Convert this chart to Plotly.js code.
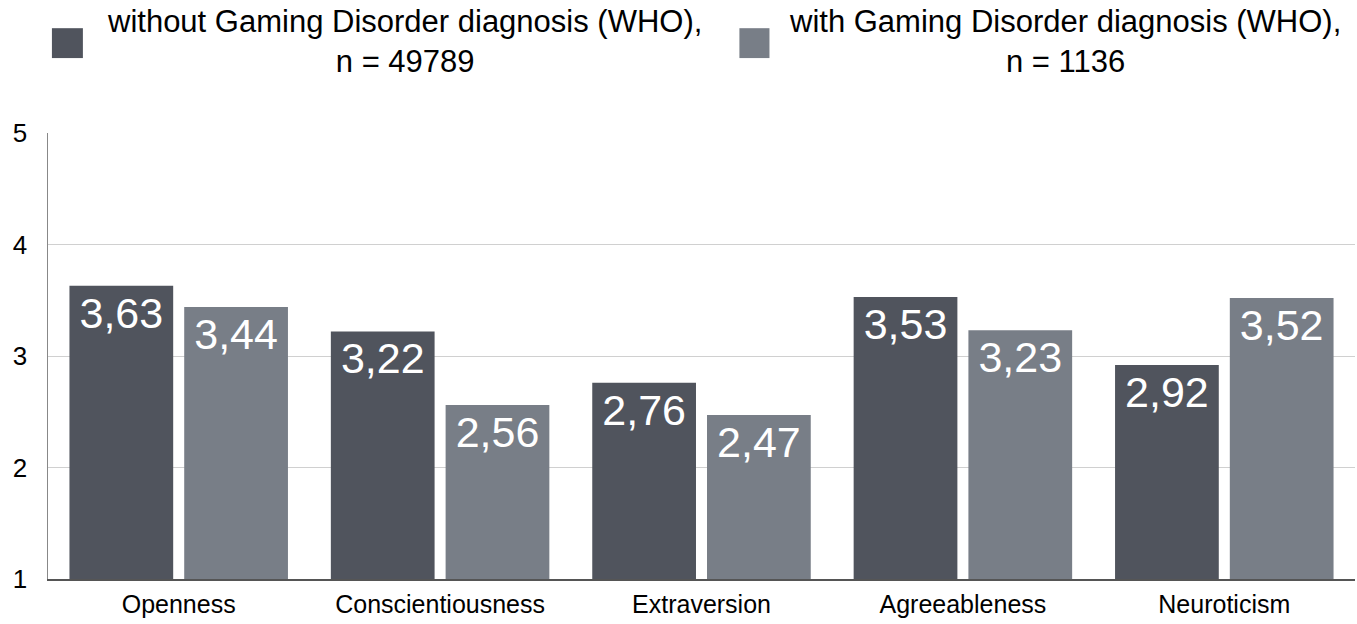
<!DOCTYPE html>
<html><head><meta charset="utf-8">
<script src="https://cdn.plot.ly/plotly-3.0.1.min.js"></script>
<style>html,body{margin:0;padding:0;background:#fff}#chart{width:1357px;height:624px}</style>
</head><body><div id="chart"></div>
<script>
const categories = ["Openness", "Conscientiousness", "Extraversion", "Agreeableness", "Neuroticism"];
const seriesNames = ["without Gaming Disorder diagnosis (WHO),<br>n = 49789", "with Gaming Disorder diagnosis (WHO),<br>n = 1136"];
const withoutGD = [3.63, 3.22, 2.76, 3.53, 2.92];
const withGD = [3.44, 2.56, 2.47, 3.23, 3.52];
const yTicks = [1, 2, 3, 4, 5];
const colors = ["#50545d", "#787e87"];
const FONT = "Liberation Sans, Arial, Helvetica, sans-serif";

function bar(vals, i) {
  return {
    type: "bar", x: categories, y: vals, name: seriesNames[i],
    marker: {color: colors[i]},
    texttemplate: "%{y:.2f}", textposition: "inside", insidetextanchor: "end",
    insidetextfont: {color: "#ffffff", size: 43, family: FONT},
    constraintext: "none", hoverinfo: "skip"
  };
}
const data = [bar(withoutGD, 0), bar(withGD, 1)];

const layout = {
  width: 1357, height: 624,
  margin: {l: 48, r: 2, t: 133, b: 45},
  paper_bgcolor: "#ffffff", plot_bgcolor: "#ffffff",
  separators: ", ",
  showlegend: false,
  barmode: "group", bargap: 0.122, bargroupgap: 0.096,
  font: {family: FONT, color: "#000000", size: 26},
  xaxis: {
    showline: true, linecolor: "#555555", linewidth: 1.5,
    showgrid: false, ticks: "", ticklabelstandoff: 2,
    tickfont: {size: 25, color: "#000"}, fixedrange: true
  },
  yaxis: {
    range: [1, 5], tickvals: yTicks, ticktext: yTicks.map(String),
    showline: true, linecolor: "#888888", linewidth: 1.5,
    showgrid: true, gridcolor: "#d0d0d0", gridwidth: 1,
    zeroline: false, ticks: "", ticklabelstandoff: 14,
    tickfont: {size: 26, color: "#000"}, fixedrange: true
  },
  annotations: [
    {xref: "paper", yref: "paper", x: 0.2727, y: 1.293, xanchor: "center", yanchor: "top",
     text: seriesNames[0], showarrow: false, align: "center",
     font: {size: 31, color: "#000", family: FONT}},
    {xref: "paper", yref: "paper", x: 0.7785, y: 1.293, xanchor: "center", yanchor: "top",
     text: seriesNames[1], showarrow: false, align: "center",
     font: {size: 31, color: "#000", family: FONT}}
  ],
  shapes: [
    {type: "rect", xref: "paper", yref: "paper", x0: 0.003, x1: 0.0267, y0: 1.168, y1: 1.235,
     fillcolor: colors[0], line: {width: 0}},
    {type: "rect", xref: "paper", yref: "paper", x0: 0.529, x1: 0.552, y0: 1.168, y1: 1.235,
     fillcolor: colors[1], line: {width: 0}}
  ]
};
Plotly.newPlot("chart", data, layout, {displayModeBar: false, staticPlot: true});
</script></body></html>
